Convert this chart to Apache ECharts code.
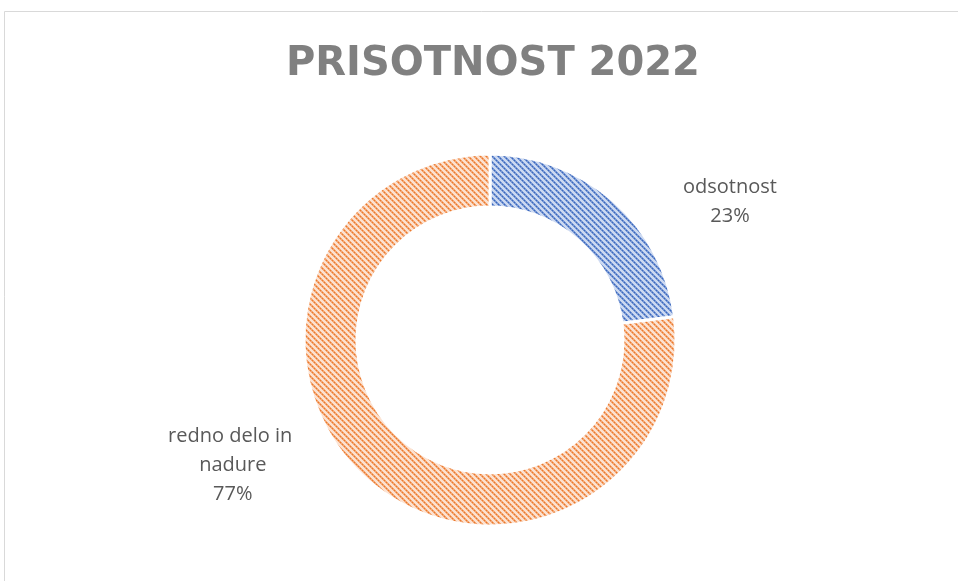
<!DOCTYPE html>
<html>
<head>
<meta charset="utf-8">
<script src="https://cdn.jsdelivr.net/npm/echarts@6/dist/echarts.min.js"></script>
<style>
  html, body { margin: 0; padding: 0; background: #fff; }
  #chart { width: 958px; height: 581px; }
</style>
</head>
<body>
<div id="chart"></div>
<script>
// Attendance breakdown for 2022
const titleText = 'PRISOTNOST 2022';
const categories = ['odsotnost', 'redno delo in nadure'];
const shares = [23, 77];

// Build a small hatched tile ("\" diagonals with dotted core) for a slice fill
function hatch(dark, mid, light) {
  const size = 6;
  const c = document.createElement('canvas');
  c.width = size; c.height = size;
  const ctx = c.getContext('2d');
  ctx.fillStyle = light;
  ctx.fillRect(0, 0, size, size);
  for (let y = 0; y < size; y++) {
    for (let x = 0; x < size; x++) {
      const d = ((x - y) % size + size) % size;
      if (d === 0) {
        ctx.fillStyle = (y % 2 === 0) ? dark : mid;
        ctx.fillRect(x, y, 1, 1);
      } else if (d === 1 || d === 5) {
        ctx.fillStyle = mid;
        ctx.fillRect(x, y, 1, 1);
      }
    }
  }
  return c;
}

const fills = [
  { image: hatch('#3a68bf', '#7696d3', '#ccd9f1'), repeat: 'repeat' },
  { image: hatch('#ec7a2c', '#f3a673', '#fce2d1'), repeat: 'repeat' }
];

// Label anchor points for each slice, as fractions of the chart size
const labelAnchors = [[0.762, 0.348], [0.243, 0.80]];

const chart = echarts.init(document.getElementById('chart'), null, { renderer: 'canvas' });

chart.setOption({
  backgroundColor: '#ffffff',
  animation: false,
  title: {
    text: titleText,
    left: 281,
    top: 40,
    textStyle: {
      fontFamily: 'DejaVu Sans',
      fontSize: 40,
      fontWeight: 'bold',
      color: '#808080'
    }
  },
  graphic: [
    {
      type: 'polyline',
      silent: true,
      shape: { points: [[4.5, 581], [4.5, 11.5], [958, 11.5]] },
      style: { stroke: '#d9d9d9', lineWidth: 1, fill: null }
    }
  ],
  series: [
    {
      type: 'pie',
      center: [490, 340],
      radius: [133, 186],
      startAngle: 90,
      clockwise: true,
      data: categories.map((name, i) => ({
        name: name,
        value: shares[i],
        itemStyle: { color: fills[i] }
      })),
      itemStyle: { borderColor: '#ffffff', borderWidth: 3 },
      label: {
        show: true,
        formatter: p => p.name + '\n' + Math.round(p.percent) + '%',
        fontFamily: 'Open Sans',
        fontSize: 20,
        lineHeight: 29,
        color: '#595959',
        align: 'center',
        width: 150,
        overflow: 'break'
      },
      labelLine: { show: false },
      labelLayout: function (params) {
        const a = labelAnchors[params.dataIndex];
        const w = chart.getWidth(), h = chart.getHeight();
        return {
          x: a[0] * w,
          y: a[1] * h,
          align: 'center',
          verticalAlign: 'middle'
        };
      },
      emphasis: { disabled: true }
    }
  ]
});
</script>
</body>
</html>
